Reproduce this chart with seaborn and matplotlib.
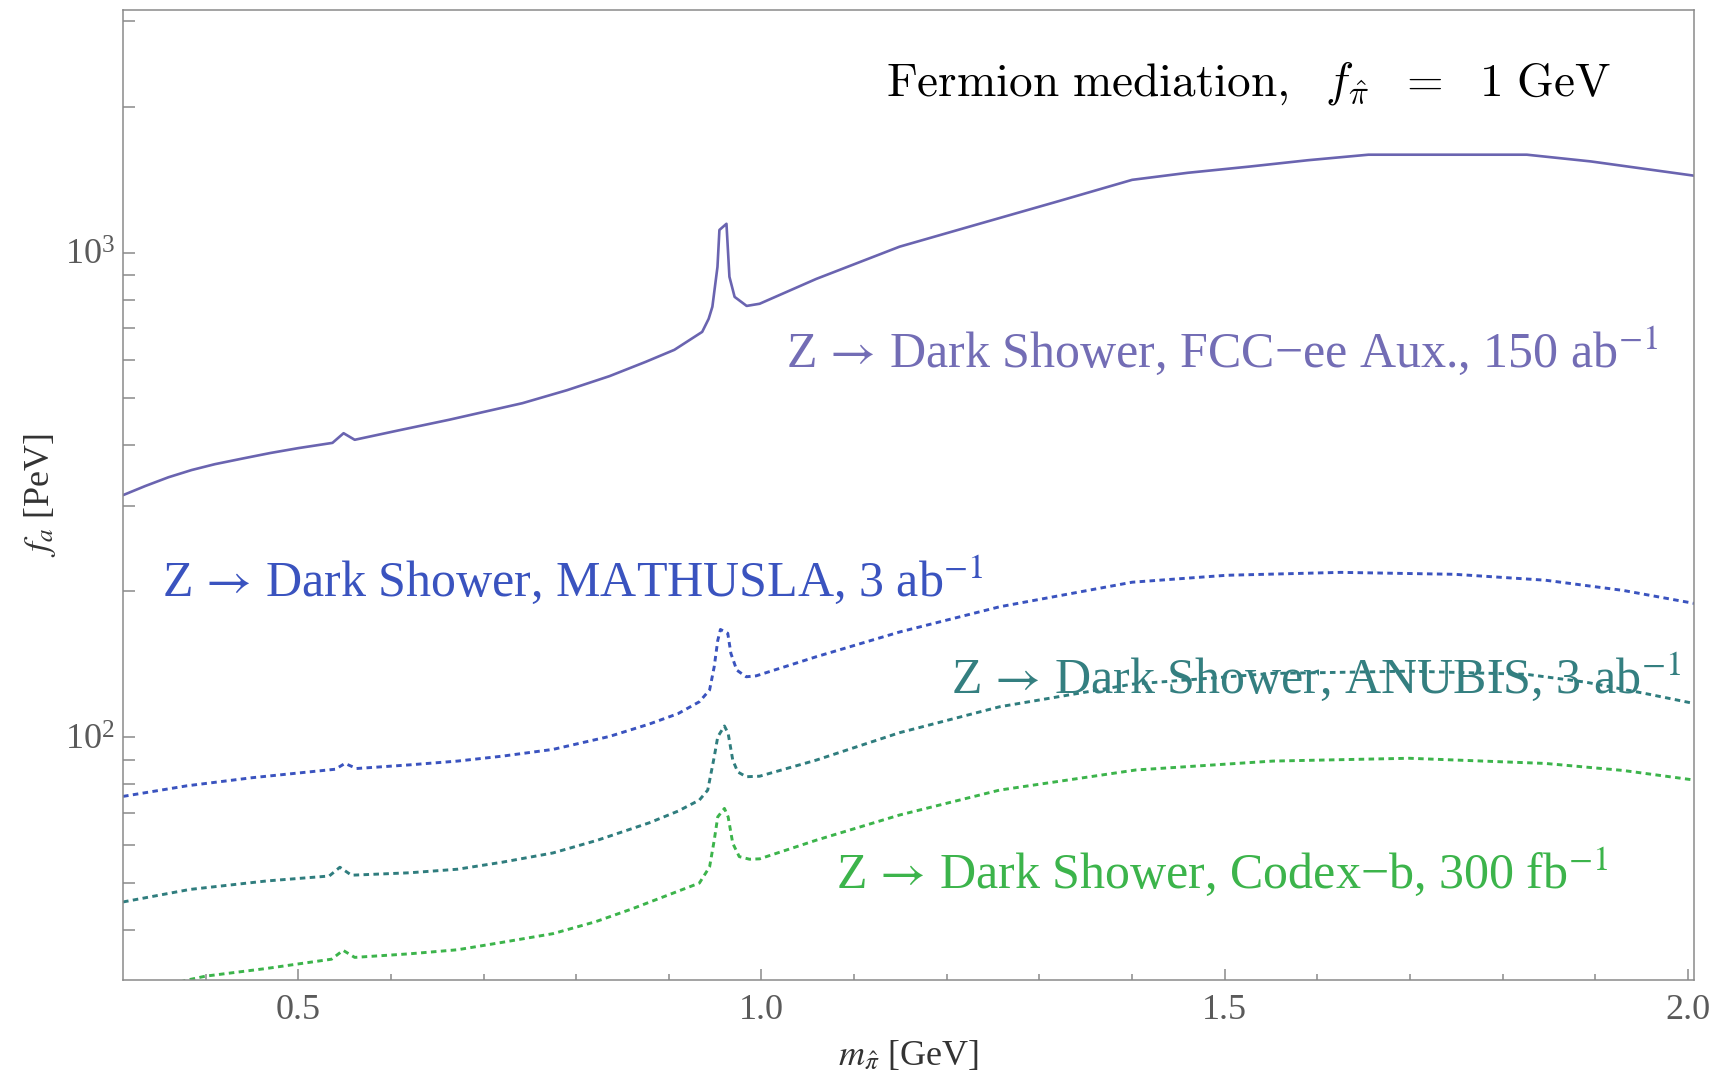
import numpy as np
import pandas as pd
import matplotlib
matplotlib.use("Agg")
import matplotlib.pyplot as plt
import matplotlib.ticker as mticker
import seaborn as sns

# ---- data: dark-pion mass [GeV] and reach in f_a [PeV] ----
m_fcc = [0.311, 0.335, 0.36, 0.385, 0.41, 0.44, 0.47, 0.50, 0.537, 0.549,
         0.561, 0.609, 0.663, 0.742, 0.79, 0.836, 0.875, 0.906, 0.936,
         0.943, 0.947, 0.9525, 0.9546, 0.9622, 0.9654, 0.971, 0.984, 0.998,
         1.059, 1.149, 1.2365, 1.32, 1.40, 1.46, 1.527, 1.59, 1.655, 1.826,
         1.895, 2.0065]
f_fcc = [316, 330, 344, 356, 366, 376, 386, 395, 405, 424,
         411, 430, 452, 489, 520, 556, 595, 630, 686,
         730, 773, 934, 1113, 1146, 891, 810, 776, 784,
         882, 1028, 1148, 1275, 1412, 1460, 1504, 1550, 1591, 1591,
         1541, 1440]

m_mathusla = [0.311, 0.38, 0.45, 0.54, 0.5505, 0.563, 0.62, 0.672, 0.72,
              0.775, 0.836, 0.879, 0.91, 0.933, 0.944, 0.949, 0.9528,
              0.9557, 0.9636, 0.967, 0.9733, 0.9835, 0.9943, 1.059, 1.149,
              1.257, 1.40, 1.502, 1.625, 1.748, 1.846, 1.93, 2.0065]
f_mathusla = [75.6, 79.5, 82.6, 86.0, 88.4, 86.3, 87.8, 89.4, 91.5,
              94.5, 100.5, 106.6, 112, 118.5, 125.3, 140, 158.5,
              167, 164, 149, 137.7, 133.4, 134, 146.7, 165,
              186, 209, 216, 219, 217, 211, 201, 189]

m_anubis = [0.311, 0.383, 0.466, 0.5335, 0.545, 0.5575, 0.62, 0.672, 0.72,
            0.775, 0.823, 0.879, 0.91, 0.933, 0.942, 0.949, 0.9528, 0.9600,
            0.9640, 0.969, 0.9744, 0.9835, 0.998, 1.059, 1.149, 1.257, 1.40,
            1.55, 1.70, 1.825, 1.89, 1.953, 2.0065]
f_anubis = [45.8, 48.6, 50.6, 51.8, 54.0, 52.0, 52.6, 53.5, 55.3,
            57.8, 61.4, 66.7, 70.5, 74.3, 77.9, 91.2, 100.3, 105.6,
            102, 89.8, 84.9, 83.0, 83.2, 89.8, 102.3, 115.7, 128.8,
            135.5, 137, 135, 130, 123.3, 117.5]

m_codexb = [0.311, 0.345, 0.380, 0.400, 0.466, 0.536, 0.5485, 0.561, 0.62,
            0.672, 0.72, 0.775, 0.821, 0.86, 0.890, 0.933, 0.944, 0.949,
            0.9528, 0.9600, 0.9640, 0.969, 0.976, 0.987, 0.998, 1.059, 1.149,
            1.257, 1.404, 1.552, 1.699, 1.846, 1.93, 2.0065]
f_codexb = [28.9, 30.3, 31.6, 32.2, 33.4, 34.9, 36.4, 35.2, 35.8,
            36.5, 37.8, 39.4, 41.7, 44.3, 46.6, 50.1, 54.1, 61.4,
            68.6, 71.4, 68.6, 60.5, 56.8, 56.1, 56.2, 61.4, 69.2,
            77.9, 85.7, 89.4, 90.6, 88.4, 85.5, 81.7]

arrow = "$\\,\\rightarrow\\,$"
labels = [
    f"Z{arrow}Dark Shower, FCC\u2212ee Aux., 150 ab$^{{-1}}$",
    f"Z{arrow}Dark Shower, MATHUSLA, 3 ab$^{{-1}}$",
    f"Z{arrow}Dark Shower, ANUBIS, 3 ab$^{{-1}}$",
    f"Z{arrow}Dark Shower, Codex\u2212b, 300 fb$^{{-1}}$",
]
x_ticks = [0.5, 1.0, 1.5, 2.0]
x_ticklabels = ["0.5", "1.0", "1.5", "2.0"]

# ---- style ----
sns.set_style("white")
plt.rcParams["font.family"] = ["Liberation Serif", "DejaVu Serif"]
plt.rcParams["mathtext.fontset"] = "stix"

c_fcc, t_fcc = "#6a64b0", "#736db5"
c_math, t_math = "#3a53bf", "#3a53bf"
c_anu, t_anu = "#2f7d7e", "#347f80"
c_cod, t_cod = "#3cb44b", "#3cb44b"
grey = "#8a8a8a"

fig = plt.figure(figsize=(17.09, 10.77), dpi=100)
ax = fig.add_axes([0.072, 0.0901, 0.9193, 0.9006])
ax.set_yscale("log")

dots = (0, (1.9, 1.5))
sns.lineplot(x=m_fcc, y=f_fcc, ax=ax, color=c_fcc, lw=1.9, estimator=None)
sns.lineplot(x=m_mathusla, y=f_mathusla, ax=ax, color=c_math, lw=2.1,
             linestyle=dots, estimator=None)
sns.lineplot(x=m_anubis, y=f_anubis, ax=ax, color=c_anu, lw=2.1,
             linestyle=dots, estimator=None)
sns.lineplot(x=m_codexb, y=f_codexb, ax=ax, color=c_cod, lw=2.1,
             linestyle=dots, estimator=None)

ax.set_xlim(0.311, 2.0065)
ax.set_ylim(10 ** 1.5, 10 ** 3.5)

# ---- axes and ticks ----
for s in ax.spines.values():
    s.set_color(grey)
    s.set_linewidth(1.1)

ax.set_xticks(x_ticks)
ax.set_xticklabels(x_ticklabels)
ax.xaxis.set_minor_locator(mticker.MultipleLocator(0.1))
ax.yaxis.set_major_locator(mticker.LogLocator(base=10))
ax.yaxis.set_major_formatter(mticker.LogFormatterMathtext())
ax.yaxis.set_minor_locator(mticker.LogLocator(base=10, subs=np.arange(2, 10)))
ax.yaxis.set_minor_formatter(mticker.NullFormatter())

ax.tick_params(axis="both", which="both", direction="in", color=grey,
               width=1.1, labelcolor="#5a5a5a", labelsize=26,
               top=False, right=False, left=True, bottom=True)
ax.tick_params(axis="x", which="major", length=8, pad=10)
ax.tick_params(axis="x", which="minor", length=4.5)
ax.tick_params(axis="y", which="both", length=8.5, pad=6)

ax.set_xlabel("$m_{\\hat{\\pi}}$ [GeV]", fontsize=26, color="#333333", labelpad=9)
ax.set_ylabel("$f_a$ [PeV]", fontsize=26, color="#333333", labelpad=5)

# ---- annotations ----
fs = 36
ax.text(1.026, 581, labels[0], color=t_fcc, fontsize=fs, ha="left", va="baseline")
ax.text(0.353, 195.7, labels[1], color=t_math, fontsize=fs, ha="left", va="baseline")
ax.text(1.204, 123.5, labels[2], color=t_anu, fontsize=fs, ha="left", va="baseline")
ax.text(1.080, 48.9, labels[3], color=t_cod, fontsize=fs, ha="left", va="baseline")

ax.text(1.134, 2104,
        r"$\mathrm{Fermion\ mediation,}\ \ f_{\hat{\pi}}\ \ =\ \ 1\ \mathrm{GeV}$",
        fontsize=34, color="black", ha="left", va="baseline",
        math_fontfamily="cm")

fig.savefig("out.png", dpi=100, facecolor="white")
